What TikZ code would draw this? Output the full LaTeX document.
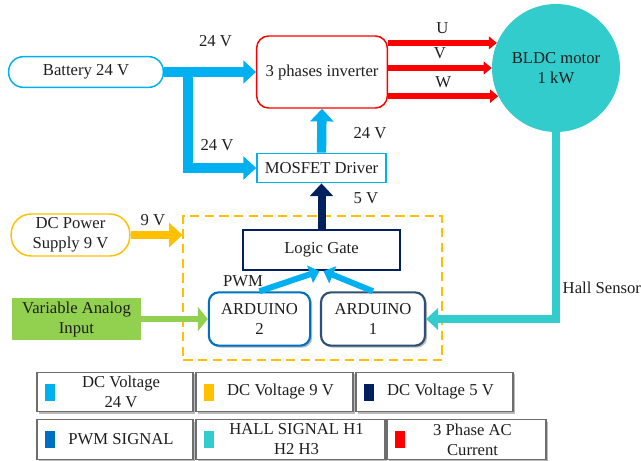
\documentclass[tikz,border=0pt]{standalone}
\usepackage{fontspec}
\setmainfont{Liberation Serif}
\usepackage{tikz}
\usetikzlibrary{arrows.meta,shadows}
\definecolor{dcblue}{HTML}{00B0F0}
\definecolor{dcyellow}{HTML}{FFC000}
\definecolor{dcnavy}{HTML}{002060}
\definecolor{pwmblue}{HTML}{0070C0}
\definecolor{ardslate}{HTML}{2F4F75}
\definecolor{hallteal}{HTML}{33CCCC}
\definecolor{acred}{HTML}{FF0000}
\definecolor{anagreen}{HTML}{92D050}
\definecolor{legframe}{HTML}{6E6E6E}
\definecolor{inkgray}{HTML}{1E1E1E}

\begin{document}
\begin{tikzpicture}[x=0.75pt,y=-0.75pt,
  font=\fontsize{12.5}{15}\selectfont,text=inkgray,
  blk/.style={inner sep=0pt,align=center},
  pill/.style={blk,draw=#1,line width=1.1pt,rounded corners=11pt},
  ard/.style={blk,draw=#1,line width=1.6pt,fill=white,rounded corners=7.5pt,
    minimum height=40pt,drop shadow={shadow xshift=1.5pt,shadow yshift=-1.5pt,fill=black!45,opacity=0.6}},
  legbox/.style={draw=legframe,line width=0.9pt,fill=white,minimum height=29.5pt,
    drop shadow={shadow xshift=1.5pt,shadow yshift=-1.5pt,fill=black!45,opacity=0.6}},
  swatch/.style={anchor=west,minimum width=7.5pt,minimum height=12.75pt,inner sep=0pt},
  pwr/.style={dcblue,line width=7pt,-{Triangle[length=9.5pt,width=17pt]}},
  five/.style={dcnavy,line width=6pt,-{Triangle[length=9.5pt,width=17pt]}},
  nine/.style={dcyellow,line width=5.5pt,-{Triangle[length=10pt,width=18pt]}},
  acl/.style={acred,line width=4.5pt,-{Triangle[length=6pt,width=9.5pt]}},
  hall/.style={hallteal,line width=6.5pt,-{Triangle[length=9pt,width=16pt]}},
  ana/.style={anagreen,line width=5pt,-{Triangle[length=7.5pt,width=18pt]}},
  pwm/.style={dcblue,line width=4.5pt,-{Triangle[length=7.5pt,width=13.5pt]}}]
  \useasboundingbox (0,0) rectangle (641,460);

  % blocks
  \node[pill=dcblue,minimum width=116pt,minimum height=23pt] (bat) at (86,72) {Battery 24 V};
  \node[blk,draw=acred,line width=1.1pt,rounded corners=9pt,minimum width=98pt,minimum height=54pt] (inv) at (322,72) {3 phases inverter};
  \node[circle,fill=hallteal,minimum size=96pt,inner sep=0pt,align=center] (mot) at (556,68) {BLDC motor\\1 kW};
  \node[blk,draw=dcblue,line width=1.1pt,minimum width=97pt,minimum height=22pt] (drv) at (321.5,168) {MOSFET Driver};
  \node[draw=dcyellow,line width=1.1pt,dash pattern=on 7pt off 4pt,minimum width=194pt,minimum height=108pt] (ctrl) at (312.5,288) {};
  \node[blk,draw=dcnavy,line width=1.6pt,minimum width=118pt,minimum height=30pt] (lg) at (321.5,250) {Logic Gate};
  \node[ard=pwmblue,minimum width=76pt] (ard2) at (259.5,319) {ARDUINO\\2};
  \node[ard=ardslate,minimum width=78pt] (ard1) at (373,319) {ARDUINO\\1};
  \node[pill=dcyellow,rounded corners=15pt,minimum width=89pt,minimum height=31.5pt] (dcps) at (70.5,235) {DC Power\\Supply 9 V};
  \node[blk,fill=anagreen,minimum width=97pt,minimum height=31.5pt] (anain) at (76.5,319) {Variable Analog\\Input};

  % connectors
  \coordinate (split) at (188,72);
  \draw[pwr] (bat.east) -- (inv.west);
  \draw[pwr] (split) |- (drv.west);
  \draw[pwr] (drv.north) -- (inv.south);
  \draw[five] (lg.north) -- (drv.south);
  \draw[acl] (inv.east |- mot.157) -- (mot.157) node[midway,above=1pt,text=inkgray] {U};
  \draw[acl] (inv.east |- mot.180) -- (mot.180) node[midway,above=1pt,text=inkgray] {V};
  \draw[acl] (inv.east |- mot.206) -- (mot.206) node[midway,above=1pt,text=inkgray] {W};
  \draw[hall] (mot.south) |- (ard1.east);
  \draw[nine] (dcps.east) -- (dcps.east -| ctrl.west);
  \draw[ana] (anain.east) -- (ard2.west);
  \draw[pwm] (ard2.north) -- ([xshift=-1.5pt]lg.south);
  \draw[pwm] (ard1.north) -- ([xshift=1.5pt]lg.south);

  % voltage labels
  \node (v24a) at (215.5,41) {24 V};
  \node (v24b) at (217,145) {24 V};
  \node (v24c) at (370,133) {24 V};
  \node (v5) at (366,198) {5 V};
  \node (v9) at (153,220) {9 V};
  \node (pwml) at (243,281) {PWM};
  \node[anchor=west] (halll) at (558,288) {Hall Sensor};

  % legend
  \node[legbox,minimum width=117pt] (lg1) at (115,392) {};
  \node[swatch,fill=dcblue] (sw1) at ([xshift=6pt]lg1.west) {};
  \node[align=center] (tx1) at ([xshift=4.5pt]lg1.center) {DC Voltage\\24 V};
  \node[legbox,minimum width=117.75pt] (lg2) at (274.5,392) {};
  \node[swatch,fill=dcyellow] (sw2) at ([xshift=6pt]lg2.west) {};
  \node (tx2) at ([xshift=4.5pt]lg2.center) {DC Voltage 9 V};
  \node[legbox,minimum width=117.75pt] (lg3) at (434.5,392) {};
  \node[swatch,fill=dcnavy] (sw3) at ([xshift=6pt]lg3.west) {};
  \node (tx3) at ([xshift=4.5pt]lg3.center) {DC Voltage 5 V};
  \node[legbox,minimum width=117pt] (lg4) at (115,439.5) {};
  \node[swatch,fill=pwmblue] (sw4) at ([xshift=6pt]lg4.west) {};
  \node (tx4) at ([xshift=4.5pt]lg4.center) {PWM SIGNAL};
  \node[legbox,minimum width=141.75pt] (lg5) at (290.5,439.5) {};
  \node[swatch,fill=hallteal] (sw5) at ([xshift=6pt]lg5.west) {};
  \node[align=center] (tx5) at ([xshift=4.5pt]lg5.center) {HALL SIGNAL H1\\H2 H3};
  \node[legbox,minimum width=119.25pt] (lg6) at (466.5,439.5) {};
  \node[swatch,fill=acred] (sw6) at ([xshift=6pt]lg6.west) {};
  \node[align=center] (tx6) at ([xshift=4.5pt]lg6.center) {3 Phase AC\\Current};
\end{tikzpicture}
\end{document}
